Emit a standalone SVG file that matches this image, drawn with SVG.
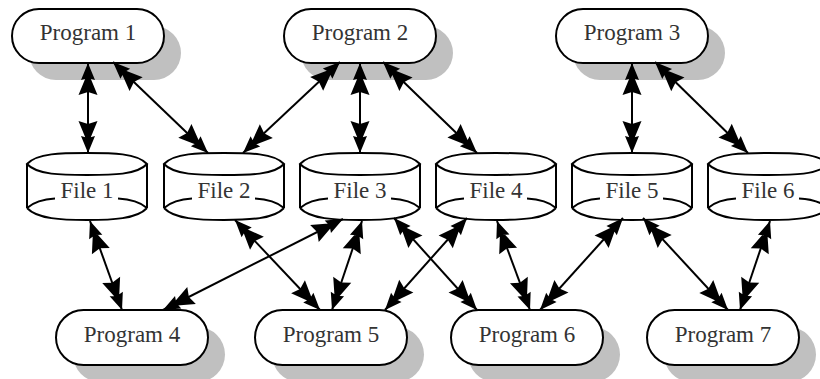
<svg xmlns="http://www.w3.org/2000/svg" width="820" height="379" viewBox="0 0 820 379">
<style>
.bg{fill:#ffffff}
.shadow{fill:#c0c0c0}
.prog{fill:#ffffff;stroke:#000;stroke-width:2}
.cylfill{fill:#ffffff;stroke:none}
.cyl{fill:none;stroke:#000;stroke-width:2}
.lbl{font-family:"Liberation Serif","Times New Roman",serif;font-size:23px;fill:#333;text-anchor:middle}
.edge{fill:none;stroke:#000;stroke-width:2;marker-start:url(#ah);marker-end:url(#ah)}
</style>
<defs>
<marker id="ah" markerUnits="userSpaceOnUse" markerWidth="34" markerHeight="22" refX="32" refY="11" orient="auto-start-reverse" overflow="visible">
<path d="M32,11 L15,4 L17,11 L15,18 Z M23,11 L0,1.5 L3,11 L0,20.5 Z" fill="#000"/>
</marker>
<g id="cylinder">
<path class="cylfill" d="M-60,0 C-50,-11 -25,-11 0,-11 C25,-11 50,-11 60,0 V44 C50,55 25,56 0,56 C-25,56 -50,55 -60,44 Z"/>
<path class="cyl" d="M-60,0 C-50,-11 -25,-11 0,-11 C25,-11 50,-11 60,0 C50,11 25,11 0,11 C-25,11 -50,11 -60,0 Z"/>
<path class="cyl" d="M-60,0 V44 M60,0 V44 M-60,44 C-50,55 -25,56 0,56 C25,56 50,55 60,44 M-60,44 C-52,37 -42,35 -32,34.5 M31,34.5 C42,35 52,37 60,44"/>
</g>
</defs>
<rect class="bg" x="0" y="0" width="820" height="379"/>

<g id="program1">
<rect class="shadow" x="29" y="26" width="152" height="54" rx="27"/>
<rect class="prog" x="12" y="9" width="152" height="54" rx="27"/>
<text class="lbl" x="88" y="40">Program 1</text>
</g>
<g id="program2">
<rect class="shadow" x="301" y="26" width="152" height="54" rx="27"/>
<rect class="prog" x="284" y="9" width="152" height="54" rx="27"/>
<text class="lbl" x="360" y="40">Program 2</text>
</g>
<g id="program3">
<rect class="shadow" x="573" y="26" width="152" height="54" rx="27"/>
<rect class="prog" x="556" y="9" width="152" height="54" rx="27"/>
<text class="lbl" x="632" y="40">Program 3</text>
</g>
<g id="program4">
<rect class="shadow" x="73" y="327" width="152" height="55" rx="27.5"/>
<rect class="prog" x="56" y="310" width="152" height="55" rx="27.5"/>
<text class="lbl" x="132" y="342">Program 4</text>
</g>
<g id="program5">
<rect class="shadow" x="272" y="327" width="152" height="55" rx="27.5"/>
<rect class="prog" x="255" y="310" width="152" height="55" rx="27.5"/>
<text class="lbl" x="331" y="342">Program 5</text>
</g>
<g id="program6">
<rect class="shadow" x="468" y="327" width="152" height="55" rx="27.5"/>
<rect class="prog" x="451" y="310" width="152" height="55" rx="27.5"/>
<text class="lbl" x="527" y="342">Program 6</text>
</g>
<g id="program7">
<rect class="shadow" x="664" y="327" width="152" height="55" rx="27.5"/>
<rect class="prog" x="647" y="310" width="152" height="55" rx="27.5"/>
<text class="lbl" x="723" y="342">Program 7</text>
</g>

<g id="file1"><use href="#cylinder" transform="translate(87,164)"/><text class="lbl" x="87" y="198">File 1</text></g>
<g id="file2"><use href="#cylinder" transform="translate(224,164)"/><text class="lbl" x="224" y="198">File 2</text></g>
<g id="file3"><use href="#cylinder" transform="translate(360,164)"/><text class="lbl" x="360" y="198">File 3</text></g>
<g id="file4"><use href="#cylinder" transform="translate(496,164)"/><text class="lbl" x="496" y="198">File 4</text></g>
<g id="file5"><use href="#cylinder" transform="translate(632,164)"/><text class="lbl" x="632" y="198">File 5</text></g>
<g id="file6"><use href="#cylinder" transform="translate(768,164)"/><text class="lbl" x="768" y="198">File 6</text></g>

<g id="connectors">
<path class="edge" d="M88,63 L88,153"/>
<path class="edge" d="M113,62 L208,153"/>
<path class="edge" d="M340,62 L243,153"/>
<path class="edge" d="M360,63 L360,153"/>
<path class="edge" d="M383,62 L477,153"/>
<path class="edge" d="M632,63 L632,153"/>
<path class="edge" d="M655,62 L748,153"/>
<path class="edge" d="M90,221 L122,310"/>
<path class="edge" d="M235,220 L320,310"/>
<path class="edge" d="M343,219 L163,310"/>
<path class="edge" d="M362,221 L332,310"/>
<path class="edge" d="M394,218 L477,310"/>
<path class="edge" d="M467,218 L385,310"/>
<path class="edge" d="M497,221 L530,310"/>
<path class="edge" d="M623,218 L540,310"/>
<path class="edge" d="M643,218 L728,310"/>
<path class="edge" d="M770,221 L740,310"/>
</g>
</svg>
